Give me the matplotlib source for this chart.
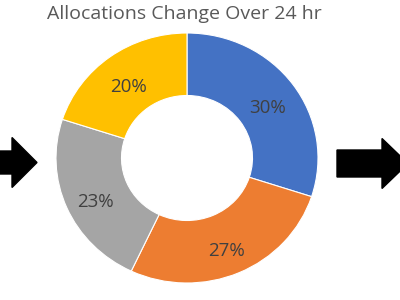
import matplotlib.pyplot as plt
from matplotlib.patches import FancyArrow

# donut data
labels = ["A", "B", "C", "D"]
shares = [30, 27, 23, 20]
colors = ["#4472C4", "#ED7D31", "#A5A5A5", "#FFC000"]
title = "Allocations Change Over 24 hr"

plt.rcParams["font.family"] = ["Open Sans", "DejaVu Sans"]

fig = plt.figure(figsize=(4, 3), dpi=100)

# pixel overlay for the title and the arrows
bg = fig.add_axes([0, 0, 1, 1])
bg.set_xlim(0, 400)
bg.set_ylim(300, 0)
bg.axis("off")

# donut, slightly stretched sideways like the source image
ax = fig.add_axes([56 / 400, 17 / 300, 262 / 400, 250 / 300])
wedges, _, pcts = ax.pie(
    shares, colors=colors, startangle=90, counterclock=False,
    radius=1, autopct="%.0f%%", pctdistance=0.76,
    wedgeprops=dict(width=0.5, edgecolor="white", linewidth=0.8),
    textprops=dict(color="#404040", fontsize=13.5),
)
# labels sit a little lower in the original
for t in pcts:
    x, y = t.get_position()
    t.set_position((x, y - 0.05))
ax.set_aspect("auto")
ax.set_xlim(-1, 1)
ax.set_ylim(-1, 1)

bg.text(184, 14, title, ha="center", va="center", fontsize=14, color="#595959")

# arrows either side
bg.add_patch(FancyArrow(-5, 162.5, 42, 0, width=23, head_width=50,
                        head_length=25, length_includes_head=True,
                        color="black"))
bg.add_patch(FancyArrow(337, 163.5, 71, 0, width=27, head_width=50,
                        head_length=26, length_includes_head=True,
                        color="black"))

fig.savefig("out.png", dpi=100)
